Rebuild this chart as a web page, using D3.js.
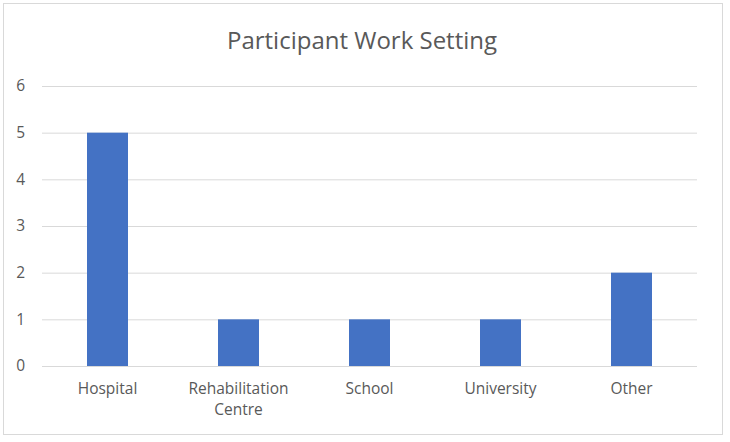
<!DOCTYPE html>
<html><head><meta charset="utf-8">
<script src="https://cdn.jsdelivr.net/npm/d3@7"></script>
<style>body{margin:0;background:#fff}svg{display:block}</style>
</head><body>
<script>
const categories = [["Hospital"], ["Rehabilitation", "Centre"], ["School"], ["University"], ["Other"]];
const values = [5, 1, 1, 1, 2];
const yTicks = [0, 1, 2, 3, 4, 5, 6];
const title = "Participant Work Setting";

const W = 730, H = 442;
const svg = d3.select("body").append("svg").attr("width", W).attr("height", H);
svg.append("rect").attr("x", 3.5).attr("y", 3.5).attr("width", 719).attr("height", 431)
  .attr("fill", "#fff").attr("stroke", "#d9d9d9");

const font = "'Open Sans', sans-serif";
const keys = categories.map(c => c.join(" "));
const x = d3.scaleBand().domain(keys).range([42, 697]).paddingInner(0.687).paddingOuter(0.3435);
const y = d3.scaleLinear().domain([0, 6]).range([366, 86]);

svg.append("text").attr("x", 362).attr("y", 49).attr("text-anchor", "middle")
  .attr("font-family", font).attr("font-size", 24).attr("fill", "#595959").text(title);

const gy = svg.append("g").attr("transform", "translate(42,0)")
  .call(d3.axisLeft(y).tickValues(yTicks).tickSize(-655).tickFormat(d3.format("d")).tickPadding(17));
gy.select(".domain").remove();
gy.selectAll(".tick line").attr("stroke", "#d9d9d9");
gy.selectAll(".tick text").attr("font-family", font).attr("font-size", 15.5).attr("fill", "#595959");

svg.selectAll("rect.bar").data(values).join("rect").attr("class", "bar")
  .attr("x", (d, i) => x(keys[i])).attr("width", x.bandwidth())
  .attr("y", d => y(d)).attr("height", d => y(0) - y(d)).attr("fill", "#4472c4");

const gx = svg.append("g").attr("transform", "translate(0,366)")
  .call(d3.axisBottom(x).tickSize(0).tickFormat(() => ""));
gx.select(".domain").remove();
gx.selectAll(".tick").each(function(d, i) {
  const t = d3.select(this).append("text").attr("font-family", font).attr("font-size", 15.5)
    .attr("fill", "#595959").attr("text-anchor", "middle");
  categories[i].forEach((line, j) => {
    t.append("tspan").attr("x", 0).attr("y", 28 + j * 21).text(line);
  });
});
</script>
</body></html>
